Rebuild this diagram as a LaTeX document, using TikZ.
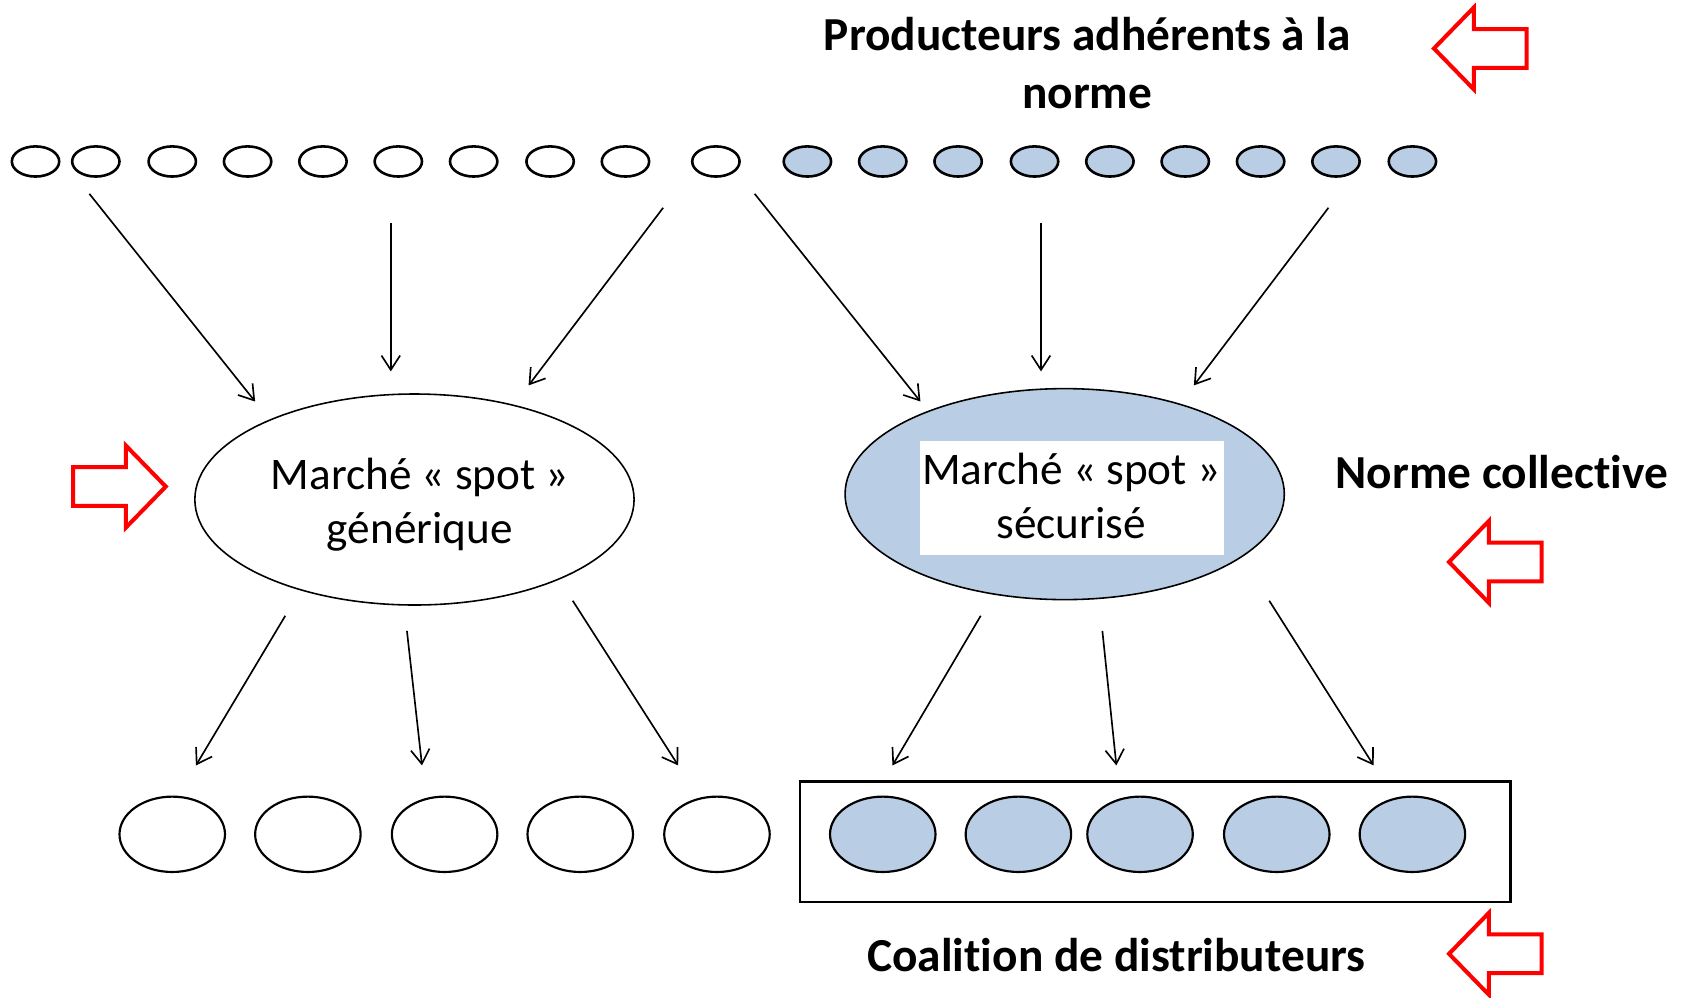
\documentclass[tikz,border=0pt]{standalone}
\usepackage{fontspec}
\setmainfont{Carlito}[Ligatures={NoCommon}]
\usetikzlibrary{shapes.geometric,arrows.meta}
\definecolor{paleblue}{HTML}{B9CDE5}
\tikzset{
  dot/.style={ellipse, draw, line width=1.8pt, minimum width=33pt, minimum height=21pt, inner sep=0pt},
  bluedot/.style={dot, fill=paleblue},
  market/.style={ellipse, draw, line width=1.1pt, minimum width=306pt, minimum height=147pt, inner sep=0pt},
  buyer/.style={ellipse, draw, line width=1.5pt, minimum width=73.5pt, minimum height=52.5pt, inner sep=0pt},
  bluebuyer/.style={buyer, fill=paleblue},
  flow/.style={line width=1.15pt, -{Straight Barb[length=10pt,width=13pt,line width=1.15pt]}},
  heading/.style={font=\bfseries\fontsize{33}{40.5}\selectfont, align=center, inner sep=0pt},
  body/.style={font=\fontsize{31.5}{37.5}\selectfont, align=center, inner sep=0pt},
  redarrow/.pic={\draw[red, line width=2.8pt, line join=miter]
    (0,-18) -- (49,-18) -- (49,-38) -- (86,0) -- (49,38) -- (49,18) -- (0,18) -- cycle;}
}
\begin{document}
\begin{tikzpicture}[x=0.75pt,y=-0.75pt]
\useasboundingbox (0,0) rectangle (1568,927);

% producers
\foreach \i/\x in {1/33,2/89,3/160,4/230,5/300,6/370,7/440,8/511,9/581,10/665}
  \node[dot] (p\i) at (\x,150) {};
\foreach \i/\x in {11/750,12/820,13/890,14/961,15/1031,16/1101,17/1171,18/1241,19/1312}
  \node[bluedot] (p\i) at (\x,150) {};

% anchor=base of a two-line node sits on its last line
\node[heading, anchor=base] (title) at (1010,101) {Producteurs adhérents à la\\norme};

% markets
\node[market] (generic) at (385,464) {};
\node[market, fill=paleblue] (secure) at (989,459) {};
\node[body, anchor=base] (gtext) at (390,505) {Marché « spot »\\générique};
\node[fill=white, minimum width=211.5pt, minimum height=79.5pt, inner sep=0pt] (sbox) at (996,463) {};
\node[body, anchor=base] (stext) at (995,500) {Marché « spot »\\sécurisé};

\node[heading, anchor=base] (norm) at (1395,454) {Norme collective};

% distributors
\node[draw, line width=1.8pt, minimum width=495pt, minimum height=84pt, inner sep=0pt] (coal) at (1073,782) {};
\foreach \i/\x in {1/160,2/286,3/413,4/539,5/666}
  \node[buyer] (d\i) at (\x,775) {};
\foreach \i/\x in {6/820,7/946,8/1059,9/1186,10/1312}
  \node[bluebuyer] (d\i) at (\x,775) {};

\node[heading, anchor=base] (coaltext) at (1037,902) {Coalition de distributeurs};

% flows from producers to markets
\coordinate (a1) at (83,180);   \coordinate (b1) at (237,373);
\coordinate (a2) at (363,207);  \coordinate (b2) at (363,345);
\coordinate (a3) at (616,193);  \coordinate (b3) at (491,358);
\coordinate (a4) at (701,180);  \coordinate (b4) at (855,373);
\coordinate (a5) at (967,207);  \coordinate (b5) at (967,345);
\coordinate (a6) at (1234,193); \coordinate (b6) at (1109,358);
% flows from markets to distributors
\coordinate (c1) at (265,572);  \coordinate (e1) at (182,711);
\coordinate (c2) at (378,586);  \coordinate (e2) at (392,711);
\coordinate (c3) at (532,558);  \coordinate (e3) at (630,711);
\coordinate (c4) at (911,572);  \coordinate (e4) at (829,711);
\coordinate (c5) at (1024,586); \coordinate (e5) at (1037,711);
\coordinate (c6) at (1179,558); \coordinate (e6) at (1276,711);
\foreach \i in {1,...,6} {
  \draw[flow] (a\i) -- (b\i);
  \draw[flow] (c\i) -- (e\i);
}

% red pointers
\pic at (68,452) {redarrow};
\pic[rotate=180] at (1418,45) {redarrow};
\pic[rotate=180] at (1432,522) {redarrow};
\pic[rotate=180] at (1432,886) {redarrow};
\end{tikzpicture}
\end{document}
